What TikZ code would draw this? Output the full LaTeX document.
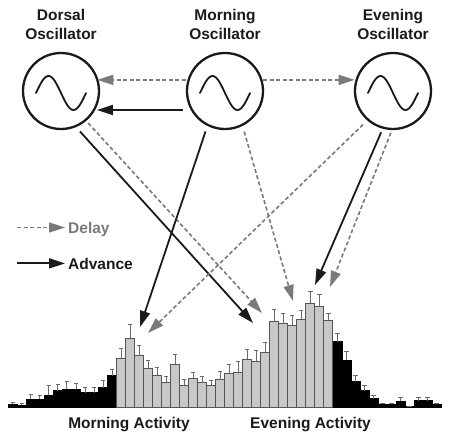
\documentclass[tikz,border=0pt]{standalone}
\usepackage{fontspec}
\setmainfont{Liberation Sans}
\usetikzlibrary{arrows.meta}
\definecolor{dgray}{HTML}{7A7A7A}
\definecolor{ink}{HTML}{1A1A1A}
\definecolor{barfill}{HTML}{C8C8C8}
\definecolor{barline}{HTML}{555555}
\definecolor{errc}{HTML}{6A6A6A}
\begin{document}
\begin{tikzpicture}[x=1pt,y=-1pt,
  osc/.style={circle,draw=ink,line width=2.3pt,minimum size=76pt,inner sep=0pt,outer sep=0pt},
  wave/.style={draw=ink,line width=1.8pt,line cap=round},
  ttl/.style={font=\bfseries\fontsize{15.5}{19}\selectfont,align=center,inner sep=0pt,text=ink},
  lab/.style={font=\bfseries\fontsize{15.5}{19}\selectfont,inner sep=0pt,text=ink},
  adv/.style={draw=ink,line width=1.8pt,-{Triangle[length=16pt,width=10pt]}},
  dly/.style={draw=dgray,line width=1.6pt,dash pattern=on 4pt off 2.5pt,-{Triangle[length=16pt,width=10pt]}},
  blackbar/.style={fill=black,draw=black,line width=0.6pt},
  graybar/.style={fill=barfill,draw=barline,line width=0.7pt},
  errbar/.style={draw=errc,line width=0.8pt}]
\useasboundingbox (0,0) rectangle (450,443);

% histogram
\foreach \t/\e [count=\i from 0] in {404/402,405/403.7,399.3/394.3,399.3/395.3,395/385,390.7/384.7,389/381.3,389.3/383,392.7/387.3,392.7/387.3,387.7/380.3,375.7/369.3}{
  \pgfmathsetmacro\xl{8.3+\i*9.015}
  \pgfmathsetmacro\xr{\xl+9.015}
  \pgfmathsetmacro\xc{\xl+4.5075}
  \filldraw[blackbar] (\xl,407.7) rectangle (\xr,\t);
  \draw[errbar] (\xc,\t) -- (\xc,\e) (\xc-2.2,\e) -- (\xc+2.2,\e);
}
\foreach \t/\e [count=\i from 12] in {358.3/348.3,338.3/324,355/345.3,368.3/360.7,375.3/367.3,382/376,364.3/354.3,385.3/379.3,378.3/372.3,382.7/376.3,385.3/380,379.3/371.7,373.3/364,372/361.3,359/349,361.3/350.7,352.3/342.3,321/309.3,323.3/313.3,325.3/315.3,319.3/310.7,303.3/291.7,306/294,320.3/313.7}{
  \pgfmathsetmacro\xl{8.3+\i*9.015}
  \pgfmathsetmacro\xr{\xl+9.015}
  \pgfmathsetmacro\xc{\xl+4.5075}
  \filldraw[graybar] (\xl,407.7) rectangle (\xr,\t);
  \draw[errbar] (\xc,\t) -- (\xc,\e) (\xc-2.2,\e) -- (\xc+2.2,\e);
}
\foreach \t/\e [count=\i from 36] in {341.7/333.3,360/351.7,381.7/375.7,390.7/385,398.7/395.3,404.3/403.3,404.3/403.3,401/397.3,406.3/406,400.7/397.7,400.7/397.7,404.3/403.3}{
  \pgfmathsetmacro\xl{8.3+\i*9.015}
  \pgfmathsetmacro\xr{\xl+9.015}
  \pgfmathsetmacro\xc{\xl+4.5075}
  \filldraw[blackbar] (\xl,407.7) rectangle (\xr,\t);
  \draw[errbar] (\xc,\t) -- (\xc,\e) (\xc-2.2,\e) -- (\xc+2.2,\e);
}

% oscillators
\node[osc] (d) at (61,91) {};
\node[osc] (m) at (225,91) {};
\node[osc] (e) at (393,91) {};
\foreach \n in {d,m,e}{
  \draw[wave,shift={(\n)}] plot[domain=0:360,samples=72,smooth] ({-25+\x/7.2},{2-17*sin(\x)});
}

\node[ttl] (td) at (61,24.5) {Dorsal\\Oscillator};
\node[ttl] (tm) at (225,24.5) {Morning\\Oscillator};
\node[ttl] (te) at (393,24.5) {Evening\\Oscillator};

% horizontal couplings
\draw[dly,shorten <=3pt] (m.163) -- (d.17);
\draw[adv,shorten <=9pt,shorten >=3pt] (m.-150) -- (d.-30);
\draw[dly,shorten <=2pt,shorten >=2pt] (m.17) -- (e.163);

% targets on the activity profile
\coordinate (t1) at (253,323);
\coordinate (t2) at (262,313);
\coordinate (t3) at (140,327);
\coordinate (t4) at (293,301);
\coordinate (t5) at (315,285);
\coordinate (t6) at (330,287);
\coordinate (t7) at (148,333);

\draw[adv,shorten <=7pt] (d.-68) -- (t1);
\draw[dly,shorten <=4pt] (d.-50) -- (t2);
\draw[adv,shorten <=7pt] (m.-117) -- (t3);
\draw[dly,shorten <=7pt] (m.-63) -- (t4);
\draw[adv,shorten <=5pt] (e.-105) -- (t5);
\draw[dly,shorten <=4pt] (e.-91) -- (t6);
\draw[dly,shorten <=7pt] (e.-131) -- (t7);

% legend
\node[lab,anchor=base west,text=dgray] (ldel) at (68,233.3) {Delay};
\node[lab,anchor=base west] (ladv) at (68,269.3) {Advance};
\coordinate (ld0) at (17,227.5);
\coordinate (la0) at (17,263.4);
\draw[dly,shorten >=3pt] (ld0) -- (ld0 -| ldel.west);
\draw[adv,shorten >=3pt] (la0) -- (la0 -| ladv.west);

% axis labels
\node[lab,anchor=base] (lma) at (129,429) {Morning Activity};
\node[lab,anchor=base] (lea) at (310.5,429) {Evening Activity};
\end{tikzpicture}
\end{document}
